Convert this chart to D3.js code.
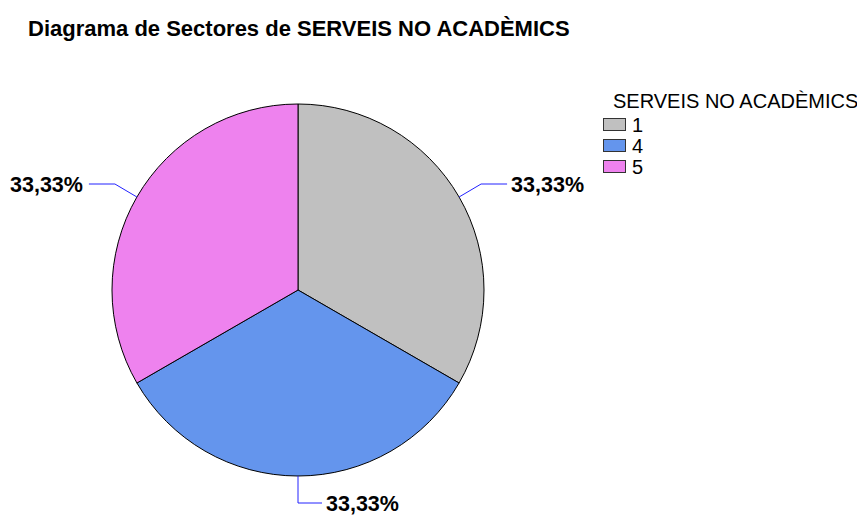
<!DOCTYPE html>
<html>
<head>
<meta charset="utf-8">
<script src="https://cdn.jsdelivr.net/npm/d3@7"></script>
<style>
body { margin: 0; background: #fff; }
text { font-family: "Liberation Sans", Arial, sans-serif; }
</style>
</head>
<body>
<svg id="pie" width="857" height="516"></svg>
<script>
// data
var categories = ["1", "4", "5"];
var values = [1, 1, 1];
var labels = ["33,33%", "33,33%", "33,33%"];
var colors = ["#c0c0c0", "#6495ed", "#ee82ee"];

var svg = d3.select("#pie"),
cx = 298, cy = 290, radius = 186;

svg.append("text")
.attr("x", 28)
.attr("y", 36)
.style("font-size", "22px")
.style("font-weight", "bold")
.text("Diagrama de Sectores de SERVEIS NO ACADÈMICS");

var color = d3.scaleOrdinal().domain(categories).range(colors);

var pie = d3.pie().sort(null).value(function(d) { return d.value; });
var arc = d3.arc().innerRadius(0).outerRadius(radius);

var data = categories.map(function(c, i) { return {cat: c, value: values[i], label: labels[i]}; });
var arcs = pie(data);

var g = svg.append("g").attr("transform", "translate(" + cx + "," + cy + ")");

g.selectAll("path")
.data(arcs)
.enter().append("path")
.attr("d", arc)
.attr("fill", function(d) { return color(d.data.cat); })
.attr("stroke", "#000")
.attr("stroke-width", 1);

// leader lines + labels
arcs.forEach(function(d) {
    var a = (d.startAngle + d.endAngle) / 2;
    var sx = Math.sin(a) * radius, sy = -Math.cos(a) * radius;
    var pts, tx, ty, anchor;
    if (Math.abs(Math.sin(a)) < 0.01) {
        // bottom
        pts = [[sx, sy], [sx, sy + 27], [sx + 24, sy + 27]];
        tx = sx + 28; ty = sy + 27; anchor = "start";
    } else if (Math.sin(a) > 0) {
        pts = [[sx, sy], [sx + 22, sy - 13], [sx + 48, sy - 13]];
        tx = sx + 52; ty = sy - 13; anchor = "start";
    } else {
        pts = [[sx, sy], [sx - 22, sy - 13], [sx - 48, sy - 13]];
        tx = sx - 54; ty = sy - 13; anchor = "end";
    }
    g.append("path")
    .attr("d", d3.line()(pts))
    .attr("fill", "none")
    .attr("stroke", "#2222ff")
    .attr("stroke-width", 1);
    g.append("text")
    .attr("x", tx)
    .attr("y", ty)
    .attr("dy", "0.36em")
    .attr("text-anchor", anchor)
    .style("font-size", "21.5px")
    .style("font-weight", "bold")
    .text(d.data.label);
});

// legend
var legend = svg.append("g").attr("transform", "translate(603,0)");
legend.append("text")
.attr("x", 10)
.attr("y", 108)
.style("font-size", "20px")
.text("SERVEIS NO ACADÈMICS");

var item = legend.selectAll(".legend")
.data(categories)
.enter().append("g")
.attr("class", "legend")
.attr("transform", function(d, i) { return "translate(0," + (118 + i * 21) + ")"; });

item.append("rect")
.attr("x", 0.5)
.attr("y", 0.5)
.attr("width", 22)
.attr("height", 12)
.attr("fill", color)
.attr("stroke", "#333")
.attr("stroke-width", 1);

item.append("text")
.attr("x", 29)
.attr("y", 7)
.attr("dy", "0.36em")
.style("font-size", "20px")
.text(function(d) { return d; });
</script>
</body>
</html>
